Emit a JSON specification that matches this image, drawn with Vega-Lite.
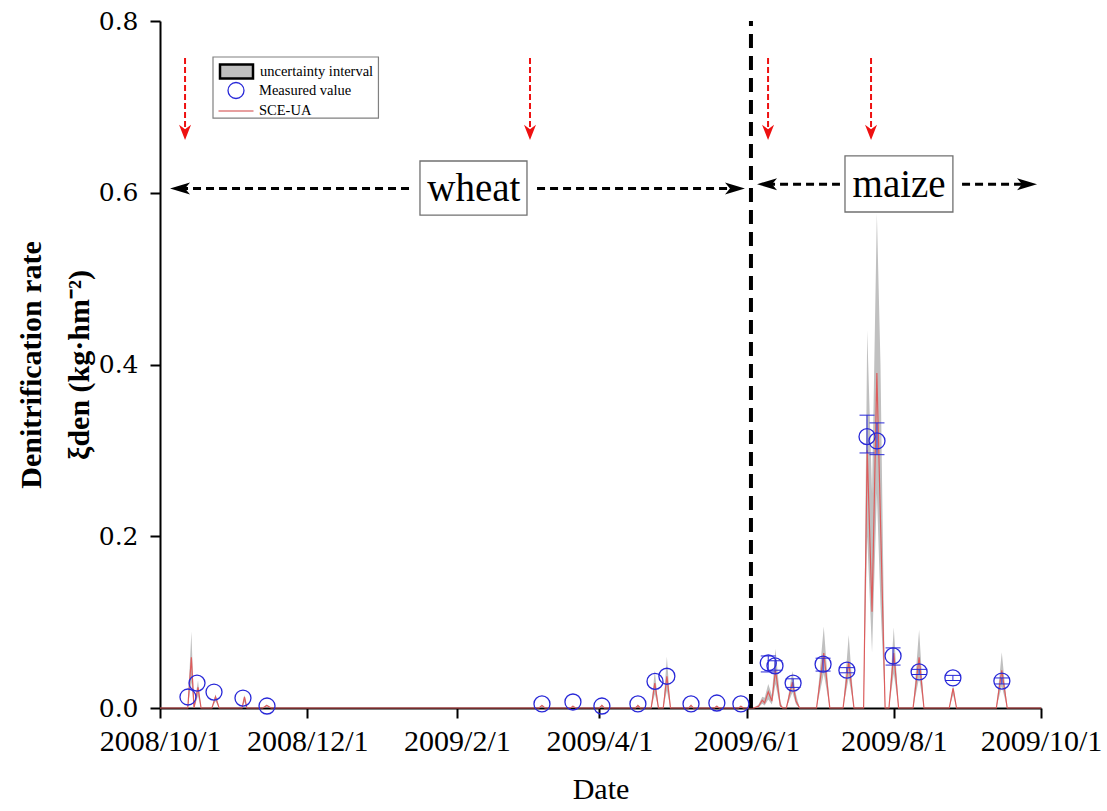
{
  "$schema": "https://vega.github.io/schema/vega-lite/v6.json",
  "width": 881,
  "height": 687,
  "autosize": "none",
  "padding": {"left": 160, "top": 21, "right": 66, "bottom": 103},
  "background": "white",
  "config": {
    "view": {"stroke": null},
    "font": "Liberation Serif",
    "axis": {
      "domainColor": "black", "domainWidth": 2, "tickColor": "black", "tickWidth": 2, "tickSize": 10,
      "labelFont": "Liberation Serif", "labelColor": "black", "titleFont": "Liberation Serif", "titleColor": "black", "grid": false
    },
    "legend": {"labelFont": "Liberation Serif", "labelFontSize": 14.5, "labelColor": "black", "padding": 0, "title": null}
  },
  "datasets": {
    "model": [
      {"d": "2008-10-01T00:00", "v": 0, "lo": 0, "hi": 0},
      {"d": "2008-10-12T12:00", "v": 0, "lo": 0, "hi": 0},
      {"d": "2008-10-14T00:00", "v": 0.059, "lo": 0.03, "hi": 0.089},
      {"d": "2008-10-15T02:00", "v": 0, "lo": 0, "hi": 0.002},
      {"d": "2008-10-16T18:00", "v": 0.024, "lo": 0.014, "hi": 0.032},
      {"d": "2008-10-18T00:00", "v": 0, "lo": 0, "hi": 0},
      {"d": "2008-10-22T12:00", "v": 0, "lo": 0, "hi": 0},
      {"d": "2008-10-24T00:00", "v": 0.013, "lo": 0.008, "hi": 0.016},
      {"d": "2008-10-25T12:00", "v": 0, "lo": 0, "hi": 0},
      {"d": "2008-11-04T00:00", "v": 0, "lo": 0, "hi": 0},
      {"d": "2008-11-05T00:00", "v": 0.013, "lo": 0.007, "hi": 0.015},
      {"d": "2008-11-06T00:00", "v": 0, "lo": 0, "hi": 0},
      {"d": "2008-11-12T12:00", "v": 0, "lo": 0, "hi": 0},
      {"d": "2008-11-14T06:00", "v": 0.003, "lo": 0.002, "hi": 0.004},
      {"d": "2008-11-16T00:00", "v": 0, "lo": 0, "hi": 0},
      {"d": "2009-03-07T00:00", "v": 0, "lo": 0, "hi": 0},
      {"d": "2009-03-08T06:00", "v": 0.003, "lo": 0.002, "hi": 0.004},
      {"d": "2009-03-09T12:00", "v": 0, "lo": 0, "hi": 0},
      {"d": "2009-03-20T00:00", "v": 0, "lo": 0, "hi": 0},
      {"d": "2009-03-21T02:00", "v": 0.002, "lo": 0.001, "hi": 0.003},
      {"d": "2009-03-22T04:00", "v": 0, "lo": 0, "hi": 0},
      {"d": "2009-04-01T00:00", "v": 0, "lo": 0, "hi": 0},
      {"d": "2009-04-02T02:00", "v": 0.003, "lo": 0.002, "hi": 0.004},
      {"d": "2009-04-03T04:00", "v": 0, "lo": 0, "hi": 0},
      {"d": "2009-04-16T00:00", "v": 0, "lo": 0, "hi": 0},
      {"d": "2009-04-17T00:00", "v": 0.003, "lo": 0.002, "hi": 0.004},
      {"d": "2009-04-18T00:00", "v": 0, "lo": 0, "hi": 0},
      {"d": "2009-04-22T12:00", "v": 0, "lo": 0, "hi": 0},
      {"d": "2009-04-24T00:00", "v": 0.029, "lo": 0.016, "hi": 0.044},
      {"d": "2009-04-25T12:00", "v": 0, "lo": 0, "hi": 0},
      {"d": "2009-04-27T12:00", "v": 0, "lo": 0, "hi": 0},
      {"d": "2009-04-29T00:00", "v": 0.037, "lo": 0.02, "hi": 0.06},
      {"d": "2009-04-30T12:00", "v": 0, "lo": 0, "hi": 0},
      {"d": "2009-05-08T00:00", "v": 0, "lo": 0, "hi": 0},
      {"d": "2009-05-09T00:00", "v": 0.003, "lo": 0.002, "hi": 0.004},
      {"d": "2009-05-10T00:00", "v": 0, "lo": 0, "hi": 0},
      {"d": "2009-05-18T16:00", "v": 0, "lo": 0, "hi": 0},
      {"d": "2009-05-19T17:00", "v": 0.002, "lo": 0.001, "hi": 0.003},
      {"d": "2009-05-20T18:00", "v": 0, "lo": 0, "hi": 0},
      {"d": "2009-05-28T16:00", "v": 0, "lo": 0, "hi": 0},
      {"d": "2009-05-29T16:00", "v": 0.002, "lo": 0.001, "hi": 0.003},
      {"d": "2009-05-30T16:00", "v": 0, "lo": 0, "hi": 0},
      {"d": "2009-06-04T00:00", "v": 0, "lo": 0, "hi": 0},
      {"d": "2009-06-06T00:00", "v": 0.002, "lo": 0.001, "hi": 0.004},
      {"d": "2009-06-07T12:00", "v": 0.009, "lo": 0.005, "hi": 0.013},
      {"d": "2009-06-08T12:00", "v": 0.006, "lo": 0.003, "hi": 0.012},
      {"d": "2009-06-10T00:00", "v": 0.019, "lo": 0.01, "hi": 0.028},
      {"d": "2009-06-11T12:00", "v": 0.008, "lo": 0.004, "hi": 0.015},
      {"d": "2009-06-13T00:00", "v": 0.044, "lo": 0.028, "hi": 0.069},
      {"d": "2009-06-15T00:00", "v": 0.003, "lo": 0, "hi": 0.008},
      {"d": "2009-06-16T00:00", "v": 0, "lo": 0, "hi": 0},
      {"d": "2009-06-17T12:00", "v": 0, "lo": 0, "hi": 0},
      {"d": "2009-06-20T00:00", "v": 0.03, "lo": 0.018, "hi": 0.043},
      {"d": "2009-06-21T12:00", "v": 0.008, "lo": 0.004, "hi": 0.016},
      {"d": "2009-06-23T00:00", "v": 0, "lo": 0, "hi": 0},
      {"d": "2009-06-30T00:00", "v": 0, "lo": 0, "hi": 0},
      {"d": "2009-07-03T00:00", "v": 0.064, "lo": 0.04, "hi": 0.095},
      {"d": "2009-07-05T12:00", "v": 0, "lo": 0, "hi": 0},
      {"d": "2009-07-11T00:00", "v": 0, "lo": 0, "hi": 0},
      {"d": "2009-07-13T08:00", "v": 0.054, "lo": 0.035, "hi": 0.085},
      {"d": "2009-07-15T12:00", "v": 0, "lo": 0, "hi": 0},
      {"d": "2009-07-19T12:00", "v": 0, "lo": 0, "hi": 0},
      {"d": "2009-07-21T00:00", "v": 0.3, "lo": 0.2, "hi": 0.44},
      {"d": "2009-07-23T00:00", "v": 0.112, "lo": 0.064, "hi": 0.25},
      {"d": "2009-07-25T00:00", "v": 0.39, "lo": 0.25, "hi": 0.576},
      {"d": "2009-07-26T12:00", "v": 0.218, "lo": 0.12, "hi": 0.4},
      {"d": "2009-07-28T10:00", "v": 0, "lo": 0, "hi": 0},
      {"d": "2009-07-30T00:00", "v": 0, "lo": 0, "hi": 0},
      {"d": "2009-08-01T00:00", "v": 0.064, "lo": 0.04, "hi": 0.094},
      {"d": "2009-08-03T00:00", "v": 0, "lo": 0, "hi": 0},
      {"d": "2009-08-09T00:00", "v": 0, "lo": 0, "hi": 0},
      {"d": "2009-08-11T12:00", "v": 0.059, "lo": 0.035, "hi": 0.091},
      {"d": "2009-08-13T12:00", "v": 0, "lo": 0, "hi": 0},
      {"d": "2009-08-24T00:00", "v": 0, "lo": 0, "hi": 0},
      {"d": "2009-08-25T14:00", "v": 0.023, "lo": 0.015, "hi": 0.027},
      {"d": "2009-08-27T00:00", "v": 0, "lo": 0, "hi": 0},
      {"d": "2009-09-12T12:00", "v": 0, "lo": 0, "hi": 0},
      {"d": "2009-09-14T18:00", "v": 0.044, "lo": 0.025, "hi": 0.065},
      {"d": "2009-09-17T00:00", "v": 0, "lo": 0, "hi": 0},
      {"d": "2009-10-01T00:00", "v": 0, "lo": 0, "hi": 0}
    ],
    "meas": [
      {"d": "2008-10-12T14:00", "v": 0.0128},
      {"d": "2008-10-16T08:00", "v": 0.029},
      {"d": "2008-10-23T09:00", "v": 0.0186},
      {"d": "2008-11-04T09:00", "v": 0.0116},
      {"d": "2008-11-14T08:00", "v": 0.0023},
      {"d": "2009-03-08T06:00", "v": 0.0047},
      {"d": "2009-03-21T02:00", "v": 0.007},
      {"d": "2009-04-02T02:00", "v": 0.0023},
      {"d": "2009-04-17T00:00", "v": 0.0047},
      {"d": "2009-04-24T02:00", "v": 0.031},
      {"d": "2009-04-29T00:00", "v": 0.037},
      {"d": "2009-05-09T00:00", "v": 0.0047},
      {"d": "2009-05-19T17:00", "v": 0.0058},
      {"d": "2009-05-29T16:00", "v": 0.0047},
      {"d": "2009-06-10T00:00", "v": 0.0524, "lo": 0.042, "hi": 0.0606},
      {"d": "2009-06-12T19:00", "v": 0.049, "lo": 0.044, "hi": 0.055},
      {"d": "2009-06-20T07:00", "v": 0.029, "lo": 0.024, "hi": 0.034},
      {"d": "2009-07-02T17:00", "v": 0.051, "lo": 0.043, "hi": 0.058},
      {"d": "2009-07-12T14:00", "v": 0.044, "lo": 0.041, "hi": 0.047},
      {"d": "2009-07-20T22:00", "v": 0.316, "lo": 0.297, "hi": 0.341},
      {"d": "2009-07-25T01:00", "v": 0.311, "lo": 0.295, "hi": 0.332},
      {"d": "2009-07-31T17:00", "v": 0.0606, "lo": 0.05, "hi": 0.07},
      {"d": "2009-08-11T12:00", "v": 0.042, "lo": 0.039, "hi": 0.045},
      {"d": "2009-08-25T12:00", "v": 0.035, "lo": 0.032, "hi": 0.038},
      {"d": "2009-09-14T19:00", "v": 0.0314, "lo": 0.028, "hi": 0.035}
    ],
    "fert": [
      {"d": "2008-10-11T09:00"},
      {"d": "2009-03-03T07:00"},
      {"d": "2009-06-09T22:00"},
      {"d": "2009-07-22T14:00"}
    ],
    "split": [
      {"d": "2009-06-02T20:00"}
    ],
    "legendbox": [
      {"x1": "2008-10-22T23:00", "x2": "2008-12-30T12:00", "y1": 0.687, "y2": 0.7581}
    ],
    "crop": [
      {"crop": "wheat", "a": "2008-10-09T07:00", "b": "2009-01-12T14:00", "c": "2009-03-06T05:00", "e": "2009-05-27T05:00", "y": 0.605, "bx1": "2009-01-16T17:00", "bx2": "2009-03-02T01:00", "by1": 0.574, "by2": 0.637, "tx": "2009-02-08T00:00"},
      {"crop": "maize", "a": "2009-06-09T12:00", "b": "2009-07-09T17:00", "c": "2009-08-29T07:00", "e": "2009-09-25T05:00", "y": 0.61, "bx1": "2009-07-11T19:00", "bx2": "2009-08-25T12:00", "by1": 0.5776, "by2": 0.643, "tx": "2009-08-03T05:00"}
    ]
  },
  "layer": [
    {
      "data": {"name": "model"},
      "mark": {"type": "area", "opacity": 1},
      "encoding": {
        "x": {
          "field": "d", "type": "temporal",
          "scale": {"domain": [{"year": 2008, "month": 10, "date": 1}, {"year": 2009, "month": 10, "date": 1}], "nice": false},
          "axis": {
            "title": "Date",
            "values": [
              {"year": 2008, "month": 10, "date": 1}, {"year": 2008, "month": 12, "date": 1},
              {"year": 2009, "month": 2, "date": 1}, {"year": 2009, "month": 4, "date": 1},
              {"year": 2009, "month": 6, "date": 1}, {"year": 2009, "month": 8, "date": 1},
              {"year": 2009, "month": 10, "date": 1}
            ],
            "format": "%Y/%-m/%-d", "labelFontSize": 30, "labelPadding": 8, "labelFlush": false, "labelOverlap": false,
            "titleFontSize": 30, "titleFontWeight": "normal", "titlePadding": 18
          }
        },
        "y": {
          "field": "lo", "type": "quantitative",
          "scale": {"domain": [0, 0.8], "nice": false},
          "axis": {
            "title": ["Denitrification rate", "ξden (kg·hm⁻²)"],
            "values": [0, 0.2, 0.4, 0.6, 0.8], "format": ".1f", "labelFont": "DejaVu Serif", "labelFontSize": 25, "labelPadding": 12,
            "titleFontSize": 30, "titleFontWeight": "bold", "titleLineHeight": 48, "titlePadding": 4
          }
        },
        "y2": {"field": "hi"},
        "fill": {
          "datum": "uncertainty interval",
          "scale": {"range": ["#c0c0c0"]},
          "legend": {
            "orient": "none", "legendX": 58.5, "legendY": 32.5,
            "symbolType": "M-1,-0.42H1V0.42H-1Z", "symbolSize": 1089, "symbolStrokeColor": "black", "symbolStrokeWidth": 2.5,
            "labelOffset": 5.5
          }
        }
      }
    },
    {
      "data": {"name": "model"},
      "mark": {"type": "line", "color": "#dd5c5c", "strokeWidth": 1.2},
      "encoding": {
        "x": {"field": "d", "type": "temporal"},
        "y": {"field": "v", "type": "quantitative"},
        "strokeDash": {
          "datum": "SCE-UA",
          "scale": {"range": [[1, 0]]},
          "legend": {
            "orient": "none", "legendX": 57.5, "legendY": 71.5,
            "symbolType": "stroke", "symbolSize": 1225, "symbolStrokeWidth": 1.5, "symbolStrokeColor": "#e08080",
            "labelOffset": 4.5
          }
        }
      }
    },
    {
      "data": {"name": "split"},
      "mark": {"type": "rule", "color": "black", "strokeWidth": 4, "strokeDash": [14, 8]},
      "encoding": {
        "x": {"field": "d", "type": "temporal"},
        "y": {"datum": 0},
        "y2": {"datum": 0.8}
      }
    },
    {
      "data": {"name": "fert"},
      "mark": {"type": "rule", "color": "#ee1111", "strokeWidth": 2, "strokeDash": [6, 3]},
      "encoding": {
        "x": {"field": "d", "type": "temporal"},
        "y": {"datum": 0.757},
        "y2": {"datum": 0.674}
      }
    },
    {
      "data": {"name": "fert"},
      "mark": {"type": "point", "shape": "M0,1L-0.75,-0.9L0,-0.35L0.75,-0.9Z", "size": 256, "filled": true, "color": "#ee1111", "opacity": 1},
      "encoding": {
        "x": {"field": "d", "type": "temporal"},
        "y": {"datum": 0.6707}
      }
    },
    {
      "data": {"name": "crop"},
      "mark": {"type": "rule", "color": "black", "strokeWidth": 3, "strokeDash": [8, 5]},
      "encoding": {
        "x": {"field": "a", "type": "temporal"},
        "x2": {"field": "b"},
        "y": {"field": "y", "type": "quantitative"}
      }
    },
    {
      "data": {"name": "crop"},
      "mark": {"type": "rule", "color": "black", "strokeWidth": 3, "strokeDash": [8, 5]},
      "encoding": {
        "x": {"field": "c", "type": "temporal"},
        "x2": {"field": "e"},
        "y": {"field": "y", "type": "quantitative"}
      }
    },
    {
      "data": {"name": "crop"},
      "mark": {"type": "point", "shape": "M0,1L-0.6,-1L0,-0.5L0.6,-1Z", "size": 400, "filled": true, "color": "black", "opacity": 1, "angle": 90},
      "encoding": {
        "x": {"field": "a", "type": "temporal"},
        "y": {"field": "y", "type": "quantitative"}
      }
    },
    {
      "data": {"name": "crop"},
      "mark": {"type": "point", "shape": "M0,1L-0.6,-1L0,-0.5L0.6,-1Z", "size": 400, "filled": true, "color": "black", "opacity": 1, "angle": 270},
      "encoding": {
        "x": {"field": "e", "type": "temporal"},
        "y": {"field": "y", "type": "quantitative"}
      }
    },
    {
      "data": {"name": "crop"},
      "mark": {"type": "rect", "fill": "white", "stroke": "#707070", "strokeWidth": 1.3},
      "encoding": {
        "x": {"field": "bx1", "type": "temporal"},
        "x2": {"field": "bx2"},
        "y": {"field": "by1", "type": "quantitative"},
        "y2": {"field": "by2"}
      }
    },
    {
      "data": {"name": "crop"},
      "mark": {"type": "text", "font": "Liberation Serif", "fontSize": 39, "color": "black", "align": "center", "baseline": "middle", "dy": 1},
      "encoding": {
        "x": {"field": "tx", "type": "temporal"},
        "y": {"field": "y", "type": "quantitative"},
        "text": {"field": "crop"}
      }
    },
    {
      "data": {"name": "legendbox"},
      "mark": {"type": "rect", "fill": "white", "stroke": "#808080", "strokeWidth": 1.2},
      "encoding": {
        "x": {"field": "x1", "type": "temporal"},
        "x2": {"field": "x2"},
        "y": {"field": "y1", "type": "quantitative"},
        "y2": {"field": "y2"}
      }
    },
    {
      "data": {"name": "meas"},
      "transform": [{"filter": "isValid(datum.lo)"}],
      "mark": {"type": "rule", "color": "#2828d8", "strokeWidth": 1},
      "encoding": {
        "x": {"field": "d", "type": "temporal"},
        "y": {"field": "lo", "type": "quantitative"},
        "y2": {"field": "hi"}
      }
    },
    {
      "data": {"name": "meas"},
      "transform": [{"filter": "isValid(datum.lo)"}],
      "mark": {"type": "tick", "orient": "horizontal", "color": "#2828d8", "size": 15, "thickness": 1, "opacity": 1},
      "encoding": {
        "x": {"field": "d", "type": "temporal"},
        "y": {"field": "lo", "type": "quantitative"}
      }
    },
    {
      "data": {"name": "meas"},
      "transform": [{"filter": "isValid(datum.hi)"}],
      "mark": {"type": "tick", "orient": "horizontal", "color": "#2828d8", "size": 15, "thickness": 1, "opacity": 1},
      "encoding": {
        "x": {"field": "d", "type": "temporal"},
        "y": {"field": "hi", "type": "quantitative"}
      }
    },
    {
      "data": {"name": "meas"},
      "mark": {"type": "point", "filled": false, "size": 256, "strokeWidth": 1.3, "opacity": 1},
      "encoding": {
        "x": {"field": "d", "type": "temporal"},
        "y": {"field": "v", "type": "quantitative"},
        "stroke": {
          "datum": "Measured value",
          "scale": {"range": ["#2828d8"]},
          "legend": {
            "orient": "none", "legendX": 67, "legendY": 60.5,
            "symbolType": "circle", "symbolSize": 256, "symbolStrokeWidth": 1.3, "symbolFillColor": "transparent",
            "labelOffset": 14
          }
        }
      }
    }
  ]
}
